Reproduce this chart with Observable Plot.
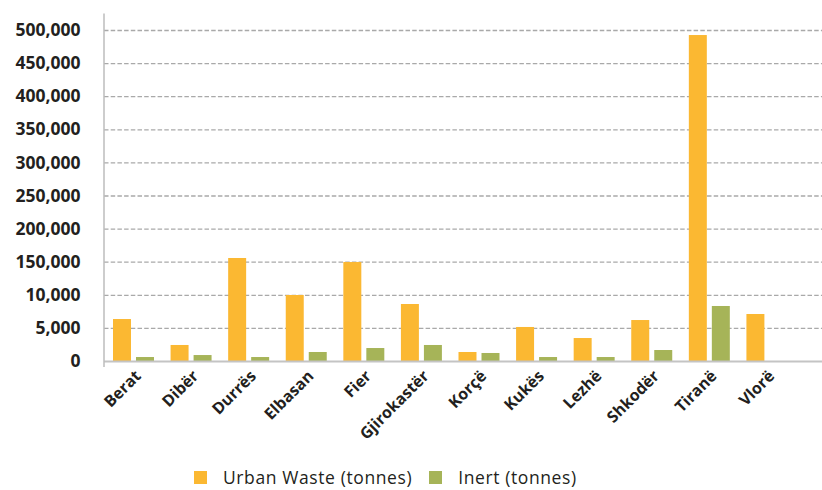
<!DOCTYPE html>
<html>
<head>
<meta charset="utf-8">
<script src="https://cdn.jsdelivr.net/npm/d3@7"></script>
<script src="https://cdn.jsdelivr.net/npm/@observablehq/plot@0.6"></script>
<style>
  html, body { margin: 0; padding: 0; background: #fff; overflow: hidden; }
  #chart { width: 822px; }
  #chart svg { display: block; }
  .legend { display: flex; align-items: center; font-family: "Open Sans", sans-serif; font-size: 17.5px; letter-spacing: 0.6px; line-height: 24px; height: 24px; color: #231f20; padding-left: 194px; margin-top: 13px; }
  .legend .sw { width: 13px; height: 13px; display: inline-block; margin-right: 16px; }
  .legend .item { display: flex; align-items: center; margin-right: 17px; }
</style>
</head>
<body>
<div id="chart"></div>
<script>
const regions = ["Berat", "Dibër", "Durrës", "Elbasan", "Fier", "Gjirokastër", "Korçë", "Kukës", "Lezhë", "Shkodër", "Tiranë", "Vlorë"];
const urbanWaste = [63400, 24200, 155600, 99700, 149500, 86100, 13600, 51400, 34700, 61900, 492400, 71000];
const inert = [6000, 9000, 6000, 13600, 19600, 24200, 12100, 6000, 6000, 16600, 83100, 0];
const seriesNames = ["Urban Waste (tonnes)", "Inert (tonnes)"];
const seriesColors = ["#fbb832", "#a6b458"];
const yTickValues = [0, 50000, 100000, 150000, 200000, 250000, 300000, 350000, 400000, 450000, 500000];
const yTickLabels = ["0", "5,000", "10,000", "150,000", "200,000", "250,000", "300,000", "350,000", "400,000", "450,000", "500,000"];

const urbanRows = regions.map((r, i) => ({region: r, value: urbanWaste[i], series: seriesNames[0]}));
const inertRows = regions.map((r, i) => ({region: r, value: inert[i], series: seriesNames[1]}));

const font = "'Open Sans', sans-serif";

const yAxisLine = (index, scales, values, dims) => {
  const line = d3.create("svg:line")
    .attr("x1", dims.marginLeft).attr("x2", dims.marginLeft)
    .attr("y1", scales.y(525000)).attr("y2", scales.y(0) + 6)
    .attr("stroke", "#bdbdbd").attr("stroke-width", 1.5);
  return line.node();
};

const chart = Plot.plot({
  width: 822,
  height: 452,
  marginLeft: 104,
  marginRight: 27,
  marginTop: 30,
  marginBottom: 91,
  style: {fontFamily: font, background: "#fff"},
  x: {domain: regions, padding: 0, round: false, axis: null},
  y: {domain: [0, 500000], axis: null},
  color: {domain: seriesNames, range: seriesColors},
  marks: [
    Plot.ruleY(yTickValues.filter(d => d > 0), {stroke: "#a9a9a9", strokeWidth: 1.3, strokeDasharray: "4.5,2.2", insetRight: -27}),
    Plot.barY(urbanRows, {x: "region", y: "value", fill: "series", insetLeft: 9, insetRight: 30.6}),
    Plot.barY(inertRows, {x: "region", y: "value", fill: "series", insetLeft: 32, insetRight: 7.6}),
    Plot.ruleY([0], {stroke: "#c4c4c4", strokeWidth: 2, insetRight: -27}),
    yAxisLine,
    Plot.axisY(yTickValues, {
      tickSize: 0, tickPadding: 24, label: null,
      tickFormat: (d) => yTickLabels[yTickValues.indexOf(d)],
      fontSize: 17.5, fontWeight: "bold", fill: "#231f20"
    }),
    Plot.axisX({
      tickSize: 0, tickRotate: -45, tickPadding: 12, label: null,
      dx: 5, fontSize: 16, fontWeight: "bold", fill: "#231f20"
    })
  ]
});
document.getElementById("chart").appendChild(chart);

const legend = d3.select("#chart").append("div").attr("class", "legend");
seriesNames.forEach((name, i) => {
  const item = legend.append("div").attr("class", "item");
  item.append("span").attr("class", "sw").style("background", seriesColors[i]);
  item.append("span").text(name);
});
</script>
</body>
</html>
